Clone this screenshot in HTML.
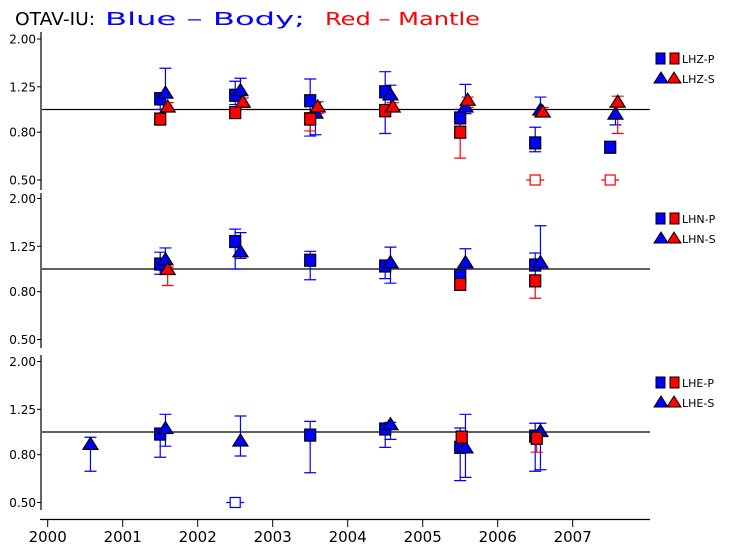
<!DOCTYPE html>
<html><head><meta charset="utf-8">
<style>
body{margin:0;background:#fff;}
svg{display:block;font-family:"DejaVu Sans","Liberation Sans",sans-serif;}
</style></head>
<body>
<svg id="chart" width="733" height="551" viewBox="0 0 733 551" xmlns="http://www.w3.org/2000/svg">
<g font-size="18">
<text x="15" y="25" fill="#000" textLength="80" lengthAdjust="spacingAndGlyphs">OTAV-IU:</text>
<text x="105" y="25" fill="#0000ff" textLength="200" lengthAdjust="spacingAndGlyphs">Blue – Body;</text>
<text x="325" y="25" fill="#ff0000" textLength="155" lengthAdjust="spacingAndGlyphs">Red – Mantle</text>
</g>
<g id="plot"></g>
</svg>
<script>
const panelNames = ['LHZ','LHN','LHE'];
const yTicks = [2.00, 1.25, 0.80, 0.50];
const yTickLabels = ['2.00','1.25','0.80','0.50'];
const xYears = [2000,2001,2002,2003,2004,2005,2006,2007];

// LHZ
const lhzBlueP_x = [2001.5,2002.5,2003.5,2004.5,2005.5,2006.5,2007.5];
const lhzBlueP_v = [1.11,1.15,1.09,1.19,0.92,0.72,0.69];
const lhzBlueP_hi = [1.18,1.32,1.35,1.45,1.00,0.84,0.70];
const lhzBlueP_lo = [1.00,1.05,0.77,0.79,0.76,0.66,0.68];
const lhzBlueS_x = [2001.57,2002.57,2003.57,2004.57,2005.57,2006.57,2007.57];
const lhzBlueS_v = [1.18,1.21,0.97,1.16,1.03,1.00,0.96];
const lhzBlueS_hi = [1.50,1.36,1.07,1.27,1.28,1.13,1.03];
const lhzBlueS_lo = [1.05,1.10,0.78,1.05,0.96,0.93,0.86];
const lhzRedP_x = [2001.5,2002.5,2003.5,2004.5,2005.5,2006.5,2007.5];
const lhzRedP_v = [0.91,0.97,0.91,0.99,0.80,0.40,0.40];
const lhzRedP_hi = [0.94,1.00,0.97,1.05,0.96,0.40,0.40];
const lhzRedP_lo = [0.88,0.95,0.81,0.93,0.62,0.40,0.40];
const lhzRedS_x = [2001.6,2002.6,2003.6,2004.6,2005.6,2006.6,2007.6];
const lhzRedS_v = [1.03,1.08,1.03,1.03,1.10,0.98,1.08];
const lhzRedS_hi = [1.07,1.12,1.08,1.07,1.13,1.02,1.14];
const lhzRedS_lo = [1.00,1.02,0.96,0.99,1.02,0.93,0.79];

// LHN
const lhnBlueP_x = [2001.5,2002.5,2003.5,2004.5,2005.5,2006.5];
const lhnBlueP_v = [1.05,1.31,1.09,1.03,0.94,1.04];
const lhnBlueP_hi = [1.18,1.48,1.19,1.05,0.97,1.17];
const lhnBlueP_lo = [0.95,1.00,0.90,0.91,0.88,0.93];
const lhnBlueS_x = [2001.57,2002.57,2004.57,2005.57,2006.57];
const lhnBlueS_v = [1.10,1.19,1.07,1.07,1.07];
const lhnBlueS_hi = [1.23,1.43,1.24,1.22,1.53];
const lhnBlueS_lo = [0.98,1.11,0.87,1.00,1.00];
const lhnRedP_x = [2005.5,2006.5];
const lhnRedP_v = [0.86,0.89];
const lhnRedP_hi = [0.88,0.90];
const lhnRedP_lo = [0.85,0.75];
const lhnRedS_x = [2001.6];
const lhnRedS_v = [1.00];
const lhnRedS_hi = [1.02];
const lhnRedS_lo = [0.85];

// LHE
const lheBlueP_x = [2001.5,2002.5,2003.5,2004.5,2005.5,2006.5];
const lheBlueP_v = [0.98,0.40,0.97,1.03,0.86,0.96];
const lheBlueP_hi = [1.00,0.40,1.11,1.07,1.04,1.09];
const lheBlueP_lo = [0.78,0.40,0.67,0.86,0.62,0.68];
const lheBlueS_x = [2000.57,2001.57,2002.57,2004.57,2005.57,2006.57];
const lheBlueS_v = [0.89,1.04,0.92,1.08,0.86,1.01];
const lheBlueS_hi = [0.95,1.19,1.17,1.10,1.19,1.09];
const lheBlueS_lo = [0.68,0.87,0.79,0.93,0.64,0.69];
const lheRedP_x = [2005.52,2006.52];
const lheRedP_v = [0.95,0.94];
const lheRedP_hi = [1.01,0.98];
const lheRedP_lo = [0.90,0.82];
const lheRedS_x = [];
const lheRedS_v = [];
const lheRedS_hi = [];
const lheRedS_lo = [];

const panels = [
  {name:'LHZ', c:109.5, top:32, bot:190, series:[
    ['blue','P',lhzBlueP_x,lhzBlueP_v,lhzBlueP_hi,lhzBlueP_lo],
    ['blue','S',lhzBlueS_x,lhzBlueS_v,lhzBlueS_hi,lhzBlueS_lo],
    ['red','P',lhzRedP_x,lhzRedP_v,lhzRedP_hi,lhzRedP_lo],
    ['red','S',lhzRedS_x,lhzRedS_v,lhzRedS_hi,lhzRedS_lo]]},
  {name:'LHN', c:269, top:193, bot:348, series:[
    ['blue','P',lhnBlueP_x,lhnBlueP_v,lhnBlueP_hi,lhnBlueP_lo],
    ['blue','S',lhnBlueS_x,lhnBlueS_v,lhnBlueS_hi,lhnBlueS_lo],
    ['red','P',lhnRedP_x,lhnRedP_v,lhnRedP_hi,lhnRedP_lo],
    ['red','S',lhnRedS_x,lhnRedS_v,lhnRedS_hi,lhnRedS_lo]]},
  {name:'LHE', c:432, top:355, bot:510, series:[
    ['blue','P',lheBlueP_x,lheBlueP_v,lheBlueP_hi,lheBlueP_lo],
    ['blue','S',lheBlueS_x,lheBlueS_v,lheBlueS_hi,lheBlueS_lo],
    ['red','P',lheRedP_x,lheRedP_v,lheRedP_hi,lheRedP_lo],
    ['red','S',lheRedS_x,lheRedS_v,lheRedS_hi,lheRedS_lo]]}
];

const NS='http://www.w3.org/2000/svg';
const g=document.getElementById('plot');
const col={blue:'#0000ff',red:'#ff0000'};
function xs(yr){return 47.7+(yr-2000)*75;}
function ysF(c){return v=>c-Math.log(Math.max(v,0.5))/Math.LN2*70.5;}
function mk(tag,attrs,parent){const e=document.createElementNS(NS,tag);for(const k in attrs)e.setAttribute(k,attrs[k]);(parent||g).appendChild(e);return e;}

panels.forEach((p,pi)=>{
  const ys=ysF(p.c);
  const pg=mk('g',{});
  
  
  const ax=mk('line',{x1:41,x2:41,y1:p.top,y2:p.bot,stroke:'#000','stroke-width':1.2},pg);
  
  
  yTicks.forEach((t,i)=>{
    const y=ys(t);
    mk('line',{x1:37,x2:41,y1:y,y2:y,stroke:'#000'},pg);
    const tx=mk('text',{x:36,y:y+4.5,'font-size':12,'text-anchor':'end',fill:'#000'},pg);
    tx.textContent=yTickLabels[i];
    
    
  });
  const ref=mk('line',{x1:42,x2:650,y1:ys(1),y2:ys(1),stroke:'#000','stroke-width':1.2},pg);
  
  
  p.series.forEach(s=>{
    const [c,type,X,V,H,L]=s;
    X.forEach((yr,i)=>{
      if(V[i]<0.5) return;
      const x=xs(yr),yh=ys(H[i]),yl=ys(L[i]);
      const eb=mk('path',{d:`M${x},${yh}V${yl}M${x-6},${yh}h12M${x-6},${yl}h12`,stroke:col[c],'stroke-width':1.2,fill:'none'},pg);
      
      
    });
  });
  p.series.forEach(s=>{
    const [c,type,X,V,H,L]=s;
    X.forEach((yr,i)=>{
      const x=xs(yr);
      let m;
      if(V[i]<0.5){
        const y=ys(0.5);
        m=mk('path',{d:`M${x-9},${y}h4M${x+5},${y}h4M${x-5},${y-5}h10v10h-10z`,stroke:col[c],'stroke-width':1.2,fill:'#fff'},pg);
      } else if(type==='P'){
        const y=ys(V[i]);
        m=mk('rect',{x:x-5.5,y:y-6,width:11,height:12,fill:col[c],stroke:'#000','stroke-width':1.2},pg);
      } else {
        const y=ys(V[i]);
        m=mk('path',{d:`M${x-7.5},${y+5.5}L${x},${y-6.5}L${x+7.5},${y+5.5}Z`,fill:col[c],stroke:'#000','stroke-width':1.2},pg);
      }
      
      
    });
  });
  const ly=[58,218,382][pi];
  const lg=mk('g',{},pg);
  
  
  mk('rect',{x:656,y:ly-5,width:9,height:11,fill:'#0000ff',stroke:'#000'},lg);
  mk('rect',{x:670,y:ly-5,width:9,height:11,fill:'#ff0000',stroke:'#000'},lg);
  const t1=mk('text',{x:682,y:ly+5,'font-size':11,fill:'#000'},lg);t1.textContent=p.name+'-P';
  const ty=ly+20;
  mk('path',{d:`M654,${ty+5}L661,${ty-6}L668,${ty+5}Z`,fill:'#0000ff',stroke:'#000'},lg);
  mk('path',{d:`M667,${ty+5}L674,${ty-6}L681,${ty+5}Z`,fill:'#ff0000',stroke:'#000'},lg);
  const t2=mk('text',{x:682,y:ty+5,'font-size':11,fill:'#000'},lg);t2.textContent=p.name+'-S';
});
const xa=mk('line',{x1:40,x2:650,y1:519.5,y2:519.5,stroke:'#000','stroke-width':1.2});


xYears.forEach(yr=>{
  const x=xs(yr);
  mk('line',{x1:x,x2:x,y1:519.5,y2:527,stroke:'#000'});
  const t=mk('text',{x:x,y:542,'font-size':15,'text-anchor':'middle',fill:'#000'});
  t.textContent=yr;
  
  
});
</script>
</body></html>
